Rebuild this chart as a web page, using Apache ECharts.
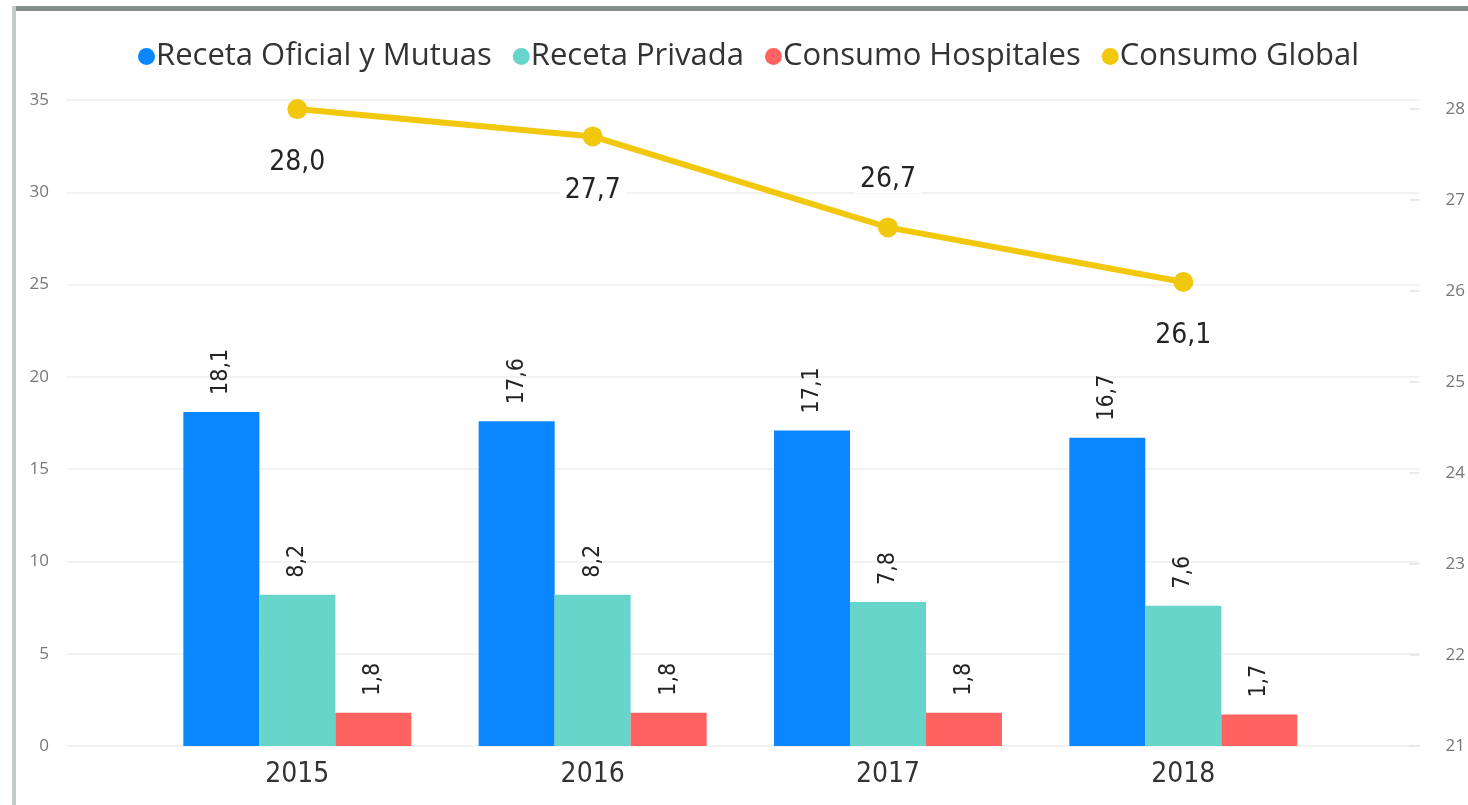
<!DOCTYPE html>
<html>
<head>
<meta charset="utf-8">
<title>Consumo</title>
<script src="https://cdn.jsdelivr.net/npm/echarts@6/dist/echarts.min.js"></script>
<style>
  html, body { margin: 0; padding: 0; background: #fff; overflow: hidden; }
  #columns_basic { width: 1468px; height: 805px; }
</style>
</head>
<body>
<div id="columns_basic"></div>
<script>
// Data
var years = ['2015', '2016', '2017', '2018'];
var recetaOficial = [18.1, 17.6, 17.1, 16.7];
var recetaPrivada = [8.2, 8.2, 7.8, 7.6];
var consumoHosp = [1.8, 1.8, 1.8, 1.7];
var consumoGlobal = [28.0, 27.7, 26.7, 26.1];
var leftTicks = [0, 5, 10, 15, 20, 25, 30, 35];
var rightTicks = [21, 22, 23, 24, 25, 26, 27, 28];

var narrow = "'Liberation Sans Narrow', 'DejaVu Sans Condensed', Roboto, sans-serif";

// label text with comma decimals
var fmt = function (v) {
    return v.toFixed(1).replace('.', ',');
};

var toPairs = function (arr) {
    return arr.map(function (v, i) { return [i, v]; });
};

// Global label placement: below except 2017
var globalPos = ['bottom', 'bottom', 'top', 'bottom'];

var barLabel = {
    show: true,
    position: 'top',
    rotate: 90,
    align: 'left',
    verticalAlign: 'middle',
    distance: 17,
    color: '#252423',
    fontFamily: narrow,
    fontWeight: 500,
    fontSize: 23,
    formatter: function (p) { return fmt(p.value[1]); }
};

var barSeries = function (name, arr) {
    return {
        name: name,
        type: 'bar',
        barWidth: 76,
        barGap: '0%',
        data: toPairs(arr),
        label: barLabel
    };
};

var option = {
    color: ['#0A87FF', '#67D5CA', '#FF6361', '#F2C80F'],
    animation: false,

    // frame of the screenshot
    graphic: [
        { type: 'rect', shape: { x: 12, y: 6, width: 1456, height: 5 }, style: { fill: '#838f8d' } },
        { type: 'rect', shape: { x: 12, y: 6, width: 4, height: 799 }, style: { fill: '#c3cbca' } }
    ],

    grid: {
        left: 67,
        right: 35,
        top: 100,
        bottom: 59
    },

    legend: {
        top: 36,
        left: 133,
        icon: 'circle',
        itemWidth: 17,
        itemHeight: 17,
        itemGap: 21,
        textStyle: {
            color: '#333',
            fontFamily: "'Open Sans', sans-serif",
            fontSize: 31,
            padding: [0, 0, 0, -4]
        }
    },

    xAxis: {
        type: 'value',
        min: -0.78,
        max: 3.80,
        axisLine: { show: false },
        axisTick: { show: false },
        splitLine: { show: false },
        axisLabel: {
            customValues: [0, 1, 2, 3],
            formatter: function (v) { return years[Math.round(v)]; },
            color: '#333',
            fontFamily: narrow,
            fontWeight: 500,
            fontSize: 28,
            margin: 15
        }
    },

    yAxis: [{
        type: 'value',
        min: leftTicks[0],
        max: leftTicks[leftTicks.length - 1],
        interval: 5,
        axisLine: { show: false },
        axisTick: { show: false },
        axisLabel: {
            color: '#777',
            fontFamily: "'Open Sans', sans-serif",
            fontSize: 17,
            margin: 18
        },
        splitLine: {
            lineStyle: { color: '#eeeeee', width: 1.5 }
        }
    }, {
        type: 'value',
        min: rightTicks[0],
        max: 28.1,
        interval: 1,
        axisLine: { show: false },
        axisTick: {
            show: true,
            inside: true,
            length: 10,
            lineStyle: { color: '#e4e4e4', width: 1.5 }
        },
        axisLabel: {
            showMaxLabel: false,
            color: '#777',
            fontFamily: "'Open Sans', sans-serif",
            fontSize: 17,
            margin: 26
        },
        splitLine: { show: false }
    }],

    series: [
        barSeries('Receta Oficial y Mutuas', recetaOficial),
        barSeries('Receta Privada', recetaPrivada),
        barSeries('Consumo Hospitales', consumoHosp),
        {
            name: 'Consumo Global',
            type: 'line',
            yAxisIndex: 1,
            symbol: 'circle',
            symbolSize: 20,
            lineStyle: { width: 6 },
            z: 5,
            data: consumoGlobal.map(function (v, i) {
                return {
                    value: [i, v],
                    label: {
                        position: globalPos[i],
                        distance: globalPos[i] === 'top' ? 24 : 30
                    }
                };
            }),
            label: {
                show: true,
                color: '#252423',
                fontFamily: narrow,
                fontWeight: 500,
                fontSize: 28,
                backgroundColor: '#fff',
                padding: [0, 5],
                formatter: function (p) { return fmt(p.value[1]); }
            }
        }
    ]
};

document.addEventListener('DOMContentLoaded', function () {
    var columns_basic = echarts.init(document.getElementById('columns_basic'));
    columns_basic.setOption(option);
});
</script>
</body>
</html>
